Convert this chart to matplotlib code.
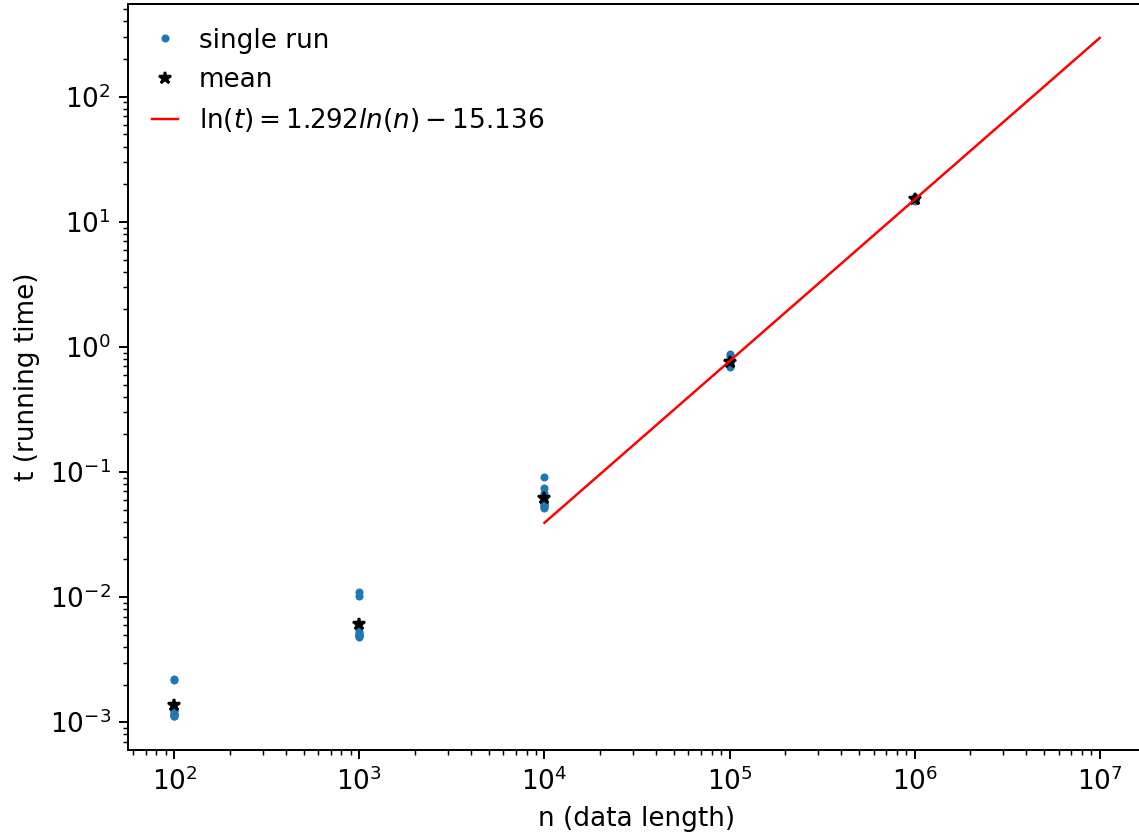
import numpy as np
import matplotlib.pyplot as plt

# running times (s) for each data length, 10 runs each
n_values = [1e2, 1e3, 1e4, 1e5, 1e6]
runs = [
    [2.22e-3, 2.18e-3, 1.26e-3, 1.22e-3, 1.19e-3, 1.17e-3, 1.15e-3, 1.14e-3, 1.13e-3, 1.12e-3],
    [1.09e-2, 1.03e-2, 5.4e-3, 5.2e-3, 5.1e-3, 5.0e-3, 4.95e-3, 4.9e-3, 4.85e-3, 4.8e-3],
    [0.091, 0.075, 0.068, 0.061, 0.057, 0.056, 0.055, 0.054, 0.053, 0.052],
    [0.88, 0.86, 0.82, 0.78, 0.75, 0.73, 0.72, 0.71, 0.70, 0.69],
    [15.8, 15.6, 15.5, 15.4, 15.3, 15.2, 15.1, 15.0, 14.9, 14.8],
]

# fitted ln(t) = a ln(n) + b on the large-n range
a, b = 1.292, -15.136
n_fit = [1e4, 1e5, 1e6, 1e7]

plt.rcParams['font.size'] = 10.6

fig = plt.figure(figsize=(1139 / 178, 835 / 178), dpi=178)
ax = fig.add_axes([128 / 1139, 85 / 835, 1018 / 1139, 746 / 835])

for i, (n, t) in enumerate(zip(n_values, runs)):
    ax.plot([n] * len(t), t, '.', color='tab:blue', markersize=4.5,
            label='single run' if i == 0 else None)
for i, (n, t) in enumerate(zip(n_values, runs)):
    ax.plot(n, np.mean(t), 'k*', markersize=5,
            label='mean' if i == 0 else None)

n_fit = np.array(n_fit)
ax.plot(n_fit, np.exp(a * np.log(n_fit) + b), 'r-', linewidth=1.0,
        label=r'$\ln(t) = %.3f ln(n) - %.3f$' % (a, -b))

ax.set_xscale('log')
ax.set_yscale('log')
ax.set_xlabel('n (data length)')
ax.set_ylabel('t (running time)')
ax.legend(loc='upper left', frameon=False, handlelength=1.0)

fig.savefig('out.png', dpi=178)
